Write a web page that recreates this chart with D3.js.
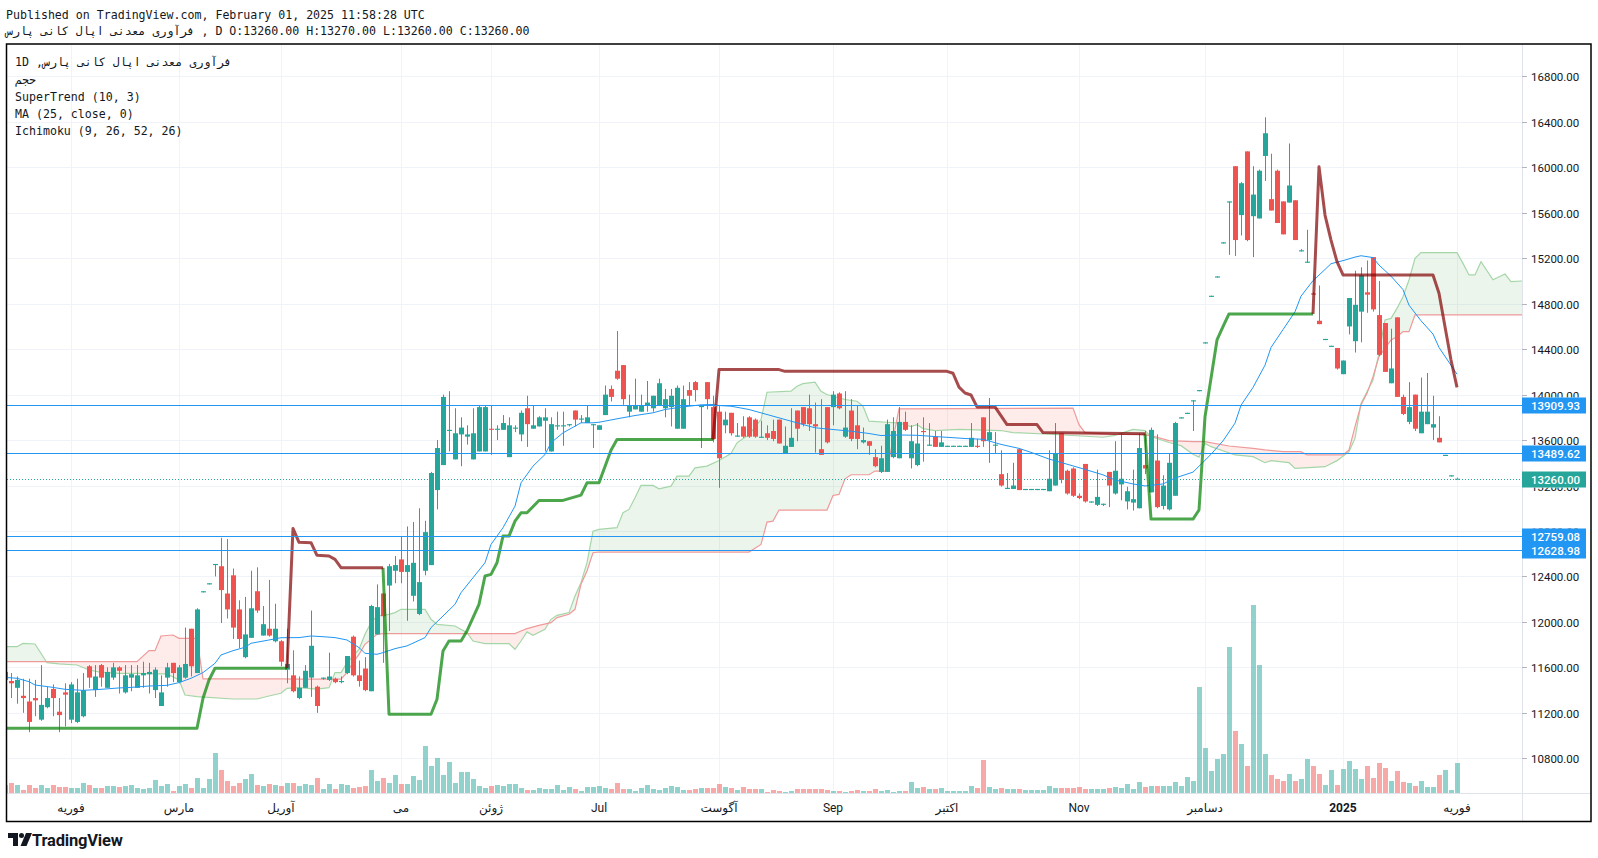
<!doctype html>
<html>
<head>
<meta charset="utf-8">
<script src="https://cdn.jsdelivr.net/npm/d3@7"></script>
<style>
html,body{ margin:0; background:#fff; overflow:hidden; }
text{ font-family: Roboto, "DejaVu Sans", sans-serif; }
.mono{ font-family: "DejaVu Sans Mono", "DejaVu Sans", monospace; font-size: 11.6px; fill:#131722; }
</style>
</head>
<body>
<svg id="chart" width="1598" height="858"></svg>
<script>
// daily candles, bar 0 = mid January 2024, bar 242 = 1 February 2025
var opens = [
11560,11480,11420,11350,11300,11330,11140,11250,11410,11210,
11380,11140,11120,11170,11610,11400,11620,11420,11510,11600,
11380,11510,11420,11530,11540,11400,11260,11510,11640,11470,
11510,11940,11550,12260,12330,12500,12490,12250,12410,12110,
11690,11860,12270,11880,11940,11830,11830,11580,11530,11330,
11420,11510,11430,11500,11490,11500,11470,11550,11870,11530,
11590,11390,11890,12250,12320,12450,12550,12440,12230,12070,
12450,12500,13160,13380,13680,13430,13650,13630,13430,13500,
13500,13700,13690,13690,13450,13700,13650,13880,13700,13720,
13770,13500,13720,13720,13730,13860,13780,13750,13730,13690,
13820,14050,14210,14260,13850,13870,13850,13900,13880,13900,
13880,13890,13700,13700,14040,14110,13890,14110,13890,13850,
13730,13840,13630,13720,13800,13780,13620,13660,13680,13780,
13480,13540,13860,13890,13880,13740,13520,13890,13890,14010,
13630,13860,13730,13580,13590,13450,13320,13320,13450,13440,
13760,13440,13380,13680,13550,13630,13540,13540,13540,13540,
13540,13540,13550,13800,13600,13550,13300,13170,13170,13520,
13160,13160,13160,13160,13150,13200,13660,13330,13350,13110,
13390,13050,13030,13030,13320,13130,13210,13060,13050,13000,
13380,13140,13420,13020,12990,13110,13790,13830,13940,14030,
14450,14860,15030,15330,15690,16010,15580,16140,15570,15550,
16100,15720,15970,15700,15690,15710,15260,15160,14890,14650,
14480,14420,14410,14180,14600,14470,14730,14900,15210,14700,
14630,14100,14680,13980,13760,14000,13660,13740,13710,13620,
13460,13280,13260];
var highs = [
11600,11550,11520,11500,11500,11490,11620,11430,11450,11330,
11460,11470,11500,11550,11620,11620,11630,11600,11640,11610,
11620,11620,11620,11650,11640,11600,11530,11640,11640,11620,
11950,11940,12120,12270,12340,12510,12740,12730,12470,12190,
12220,12450,12480,12140,12370,12160,11840,11940,11750,11520,
11620,12100,11440,11510,11730,11510,11520,11700,11880,11660,
11690,12150,12330,12250,12510,12580,12750,12840,12880,13000,
12890,13320,13600,14000,14030,13880,13800,13730,13880,13900,
13900,13900,13730,13820,13800,13730,13860,13990,13900,13810,
13880,13800,13850,13850,13740,13860,13820,13900,13740,13730,
14080,14080,14560,14260,14000,14140,14000,14120,13990,14140,
14050,14050,14080,14080,14110,14120,13900,14110,13990,13900,
13850,13840,13750,13810,13810,13790,13770,13730,13780,13780,
13720,13880,13860,13890,14000,13930,13960,13890,14030,14020,
14030,13960,13900,13710,13590,13520,13550,13780,13800,13890,
13850,13730,13750,13800,13750,13680,13680,13550,13550,13550,
13550,13750,13610,13800,13970,13670,13510,13310,13400,13520,
13170,13170,13170,13170,13510,13750,13660,13340,13360,13130,
13390,13060,13340,13040,13320,13590,13660,13190,13340,13660,
13680,13710,13650,13290,13480,13760,13800,13840,13950,14040,
14460,14870,15040,15340,15700,16010,15870,16140,16010,15980,
16440,16120,15980,15700,16210,15710,15280,15450,14900,14960,
14490,14430,14410,14300,14850,15090,15120,15180,15210,15000,
14630,14580,14680,14000,14110,14000,14150,14190,13990,13810,
13470,13290,13270];
var lows = [
11450,11330,11280,11200,11030,11170,11130,11240,11170,11030,
11080,11110,11110,11160,11420,11340,11430,11420,11490,11370,
11370,11390,11420,11420,11370,11330,11260,11430,11470,11460,
11500,11520,11550,12260,12330,12400,11990,12030,11850,11770,
11680,11860,12080,11880,11870,11820,11610,11460,11380,11320,
11420,11340,11200,11490,11480,11460,11460,11540,11520,11430,
11390,11390,11890,11640,11920,12340,12340,12010,12180,12060,
12410,12500,12990,13380,13500,13430,13370,13560,13430,13500,
13500,13470,13600,13690,13450,13670,13590,13540,13700,13720,
13500,13500,13690,13550,13720,13720,13750,13750,13530,13690,
13820,13940,14130,13910,13800,13870,13850,13850,13850,13900,
13800,13720,13700,13700,13900,13940,13530,13870,13580,13180,
13660,13640,13630,13620,13620,13620,13620,13600,13590,13570,
13480,13540,13590,13720,13680,13490,13470,13570,13730,13870,
13620,13590,13520,13570,13470,13360,13310,13320,13440,13440,
13680,13350,13370,13410,13550,13540,13540,13540,13540,13540,
13540,13540,13530,13540,13400,13480,13190,13170,13170,13160,
13160,13160,13160,13160,13150,13200,13220,13120,13100,13080,
13050,13050,13020,13020,13010,13120,13070,12990,12980,13000,
13300,13140,13000,12990,12980,13110,13790,13830,13680,14030,
14450,14860,15030,15330,15230,15220,15400,15350,15210,15550,
15880,15620,15510,15410,15690,15360,15260,15160,14880,14620,
14480,14420,14220,14180,14530,14370,14460,14720,14730,14340,
14200,14100,13980,13820,13740,13680,13660,13740,13600,13580,
13460,13280,13260];
var closes = [
11490,11460,11490,11330,11120,11310,11270,11330,11330,11180,
11360,11450,11380,11400,11510,11520,11510,11560,11600,11570,
11530,11540,11530,11550,11560,11580,11380,11600,11550,11600,
11630,11610,12110,12270,12340,12510,12280,12110,11950,11850,
11890,12120,12100,11980,11880,11940,11650,11630,11390,11420,
11570,11790,11260,11510,11520,11470,11480,11700,11530,11480,
11400,12140,12130,12050,12490,12500,12440,12500,12520,12350,
12790,13310,13530,13980,13690,13660,13710,13650,13660,13890,
13890,13690,13700,13750,13730,13710,13840,13740,13730,13800,
13800,13740,13730,13730,13740,13780,13790,13800,13740,13730,
14000,13980,14140,13960,13900,13900,13900,13930,13990,14100,
13960,13990,14060,13960,13990,14040,13900,13960,13610,13440,
13780,13660,13640,13630,13630,13630,13630,13620,13610,13570,
13550,13620,13700,13740,13740,13720,13470,13580,14000,13880,
13710,13610,13610,13600,13550,13370,13440,13740,13680,13760,
13690,13590,13570,13670,13560,13540,13580,13550,13550,13550,
13550,13620,13540,13590,13670,13560,13200,13180,13200,13160,
13170,13170,13170,13170,13260,13480,13250,13130,13110,13090,
13060,13060,13100,13040,13200,13330,13260,13150,13080,13530,
13350,13690,13010,13200,13400,13750,13800,13840,13950,14040,
14460,14870,15040,15340,15700,15360,15860,15360,15760,15970,
16300,15620,15510,15410,15840,15360,15270,15170,14880,14620,
14490,14430,14230,14300,14850,14790,15050,14880,14750,14350,
14200,14230,13980,13830,13890,13700,13850,13850,13740,13580,
13470,13290,13260];
// volume, millions of shares
var volumes = [
0.8,1.0,0.8,0.3,0.8,0.5,0.8,0.5,0.8,0.6,
0.6,0.5,0.5,1.0,0.8,0.5,0.5,0.7,0.7,0.6,
0.7,0.8,0.5,0.4,0.5,1.3,0.7,0.9,0.2,0.7,
0.9,0.5,1.5,0.5,1.4,4.0,2.3,1.2,0.7,1.0,
1.4,1.9,0.8,0.7,0.9,0.8,0.7,1.0,1.0,0.7,
0.9,0.8,1.5,0.4,0.9,0.4,0.9,0.8,0.5,0.6,
0.7,2.3,1.2,1.5,1.0,1.8,0.9,0.9,1.7,1.3,
4.7,2.7,3.5,1.8,3.1,1.0,2.1,2.1,1.4,0.7,
0.5,0.7,0.8,0.7,0.9,0.9,0.5,0.3,0.3,0.5,
0.4,0.4,0.8,0.3,0.6,0.4,0.2,0.6,0.6,0.7,
0.5,0.4,1.0,0.4,0.4,0.2,0.5,0.8,0.4,0.3,
0.5,0.7,0.6,0.3,0.3,0.4,0.5,0.5,0.5,0.9,
0.6,0.5,0.3,0.6,0.4,0.4,0.4,0.1,0.3,0.2,
0.1,0.2,0.4,0.4,0.4,0.4,0.4,0.3,0.2,0.2,
0.1,0.2,0.3,0.2,0.2,0.4,0.2,0.3,0.1,0.2,
0.2,1.1,0.5,0.6,0.4,0.4,0.5,0.2,0.2,0.2,
0.2,0.7,0.5,3.3,0.6,0.4,0.5,0.4,0.4,0.4,
0.3,0.3,0.3,0.3,0.7,0.5,0.5,0.5,0.5,0.6,
0.4,0.4,0.4,0.4,0.5,0.6,0.5,0.9,0.4,1.1,
0.6,0.7,0.7,0.7,0.7,1.1,0.7,1.6,1.2,10.6,
4.5,2.2,3.4,3.9,14.6,6.2,4.9,2.7,18.8,12.8,
3.9,1.8,1.4,1.2,1.9,1.2,1.4,3.4,2.7,1.9,
0.8,2.3,0.8,2.4,3.2,2.4,1.4,2.7,1.5,3.0,
2.5,1.2,2.2,1.1,1.0,0.7,1.2,0.6,0.6,1.8,
2.3,0.3,3.0];

// MA (25, close): [bar, value]
var maLine = [[0,11512],[2,11504],[4,11474],[5,11445],[8,11424],[10,11407],[13,11398],[16,11407],[19,11419],[21,11424],[24,11436],[27,11442],[29,11466],[31,11504],[33,11554],[35,11636],[36,11709],[38,11747],[40,11777],[41,11812],[44,11841],[46,11861],[49,11862],[51,11876],[53,11870],[55,11862],[57,11841],[59,11774],[60,11724],[62,11715],[63,11730],[65,11765],[67,11789],[70,11862],[71,11950],[73,12052],[75,12155],[76,12257],[78,12389],[80,12521],[81,12682],[83,12829],[85,13019],[86,13224],[88,13371],[90,13473],[91,13576],[93,13664],[95,13722],[96,13752],[98,13752],[99,13757],[102,13787],[105,13816],[108,13840],[110,13869],[113,13892],[116,13910],[118,13913],[119,13904],[121,13898],[124,13869],[127,13825],[130,13781],[133,13737],[135,13708],[138,13693],[141,13678],[144,13658],[146,13640],[149,13645],[152,13642],[155,13631],[158,13621],[160,13614],[163,13607],[166,13562],[169,13527],[171,13492],[174,13433],[177,13388],[180,13342],[183,13294],[185,13249],[188,13214],[190,13196],[193,13214],[195,13266],[198,13318],[199,13370],[201,13475],[203,13593],[205,13749],[206,13906],[208,14063],[210,14259],[211,14415],[213,14572],[215,14729],[216,14866],[218,15003],[220,15101],[221,15152],[223,15179],[225,15210],[226,15222],[228,15206],[229,15140],[231,15042],[233,14924],[234,14787],[236,14650],[238,14533],[239,14415],[241,14258],[242,14180]];

// SuperTrend (10, 3): up and down legs
var stUp = [
  [[0,11064],[32,11064],[33,11328],[34,11489],[35,11592],[47,11592]],
  [[63,12477],[64,11188],[71,11188],[72,11320],[73,11744],[74,11832],[76,11832],[77,11920],[78,12038],[79,12155],[80,12404],[81,12418],[82,12521],[83,12755],[84,12755],[85,12887],[86,12960],[87,12960],[89,13069],[93,13069],[96,13116],[97,13224],[99,13224],[101,13510],[102,13605],[118,13605]],
  [[190,13656],[191,12905],[198,12905],[199,12985],[200,13806],[202,14481],[203,14598],[204,14710],[218,14710]]
];
var stDown = [
  [[47,11592],[48,12823],[49,12700],[51,12697],[52,12586],[54,12580],[55,12550],[56,12477],[63,12477]],
  [[118,13605],[119,14220],[129,14220],[130,14205],[157,14205],[158,14188],[159,14066],[160,14014],[161,13997],[162,13892],[165,13892],[167,13736],[172,13736],[173,13666],[190,13656]],
  [[218,14710],[219,16005],[220,15580],[221,15360],[222,15170],[223,15053],[238,15053],[239,14892],[240,14598],[241,14305],[242,14064]]
];

// Ichimoku (9, 26, 52, 26) leading spans, shifted 26 bars ahead
var spanA = [[0,11782],[2,11782],[3,11811],[5,11806],[7,11641],[9,11630],[12,11621],[14,11577],[16,11556],[19,11548],[22,11548],[25,11542],[27,11542],[29,11489],[30,11357],[32,11342],[38,11322],[42,11322],[44,11348],[46,11372],[47,11416],[49,11422],[52,11408],[54,11422],[55,11554],[56,11554],[57,11642],[59,11759],[60,11891],[61,11994],[62,12052],[64,12067],[65,12082],[66,12111],[70,12111],[71,12023],[72,11979],[75,11964],[77,11906],[78,11832],[80,11809],[84,11809],[85,11759],[86,11832],[87,11912],[88,11882],[90,11935],[91,12023],[92,12058],[94,12082],[95,12228],[96,12345],[97,12521],[98,12799],[99,12814],[102,12829],[103,12961],[104,12990],[105,13092],[106,13201],[108,13201],[109,13171],[111,13195],[112,13283],[114,13283],[115,13356],[117,13371],[119,13420],[121,13482],[122,13576],[124,13649],[126,13781],[127,14021],[131,14030],[132,14074],[133,14097],[135,14109],[136,14030],[137,14001],[138,13986],[140,13957],[142,13942],[143,13898],[144,13766],[147,13757],[149,13750],[151,13718],[152,13736],[153,13701],[155,13684],[159,13694],[166,13684],[168,13666],[175,13649],[183,13625],[185,13642],[188,13694],[190,13684],[191,13631],[194,13579],[196,13551],[198,13475],[199,13450],[200,13571],[201,13542],[205,13469],[208,13454],[210,13401],[211,13419],[214,13401],[215,13351],[218,13360],[220,13366],[222,13419],[224,13498],[225,13615],[226,13923],[228,14129],[229,14363],[230,14657],[231,14671],[232,14759],[233,14862],[234,15009],[235,15199],[236,15249],[242,15249],[243,15155],[244,15053],[245,15053],[246,15170],[248,15011],[250,15061],[251,14995],[254,15003]];
var spanB = [[0,11650],[22,11650],[24,11747],[25,11747],[26,11876],[28,11885],[29,11856],[32,11856],[33,11498],[46,11498],[49,11496],[56,11496],[57,11554],[58,11642],[59,11715],[60,11803],[62,11891],[63,11897],[85,11897],[86,11920],[87,11941],[89,11970],[91,11994],[92,12038],[94,12067],[95,12111],[96,12331],[97,12448],[98,12609],[99,12615],[124,12615],[126,12682],[127,12878],[128,12887],[129,12984],[137,12984],[138,13113],[139,13122],[140,13259],[141,13295],[144,13295],[145,13327],[147,13327],[148,13605],[149,13875],[178,13882],[179,13736],[180,13666],[185,13649],[189,13649],[191,13640],[194,13595],[198,13586],[200,13586],[204,13548],[208,13527],[210,13513],[213,13498],[216,13498],[217,13469],[223,13469],[224,13513],[225,13718],[226,13909],[227,14011],[228,14158],[229,14334],[231,14481],[232,14510],[233,14554],[234,14554],[235,14701],[254,14701]];

var levels = [13909.93, 13489.62, 12759.08, 12628.98];
var lastPrice = 13260;
var priceTicks = d3.range(10800, 16801, 400);
var monthBars = [11, 29, 46, 66, 81, 99, 119, 138, 157, 179, 200, 223, 242];
var monthLabels = ["فوریه","مارس","آوریل","می","ژوئن","Jul","آگوست","Sep","اکتبر","Nov","دسامبر","2025","فوریه"];

var symbol = "فرآوری معدنی اپال کانی پارس";

(function(){
    var W = 1598, H = 858,
        left = 7, right = 1522, top = 45, bottom = 793,
        up = "#26a69a", down = "#ef5350";

    var x = d3.scaleLinear().domain([0, 242]).range([5, 1457]);
    var y = d3.scaleLinear().domain([10800, 16800]).range([758.3, 76.4]);
    var yVol = d3.scaleLinear().domain([0, 18.8]).range([bottom, 605]);

    var svg = d3.select("#chart");
    svg.append("rect").attr("width", W).attr("height", H).attr("fill", "#fff");

    var defs = svg.append("defs");
    defs.append("clipPath").attr("id", "plotClip")
        .append("rect").attr("x", left).attr("y", top).attr("width", right - left).attr("height", bottom - top);

    var line = d3.line().x(function(d){return x(d[0])}).y(function(d){return y(d[1])});
    var above = d3.area().x(function(d){return x(d[0])}).y0(0).y1(function(d){return y(d[1])});
    var below = d3.area().x(function(d){return x(d[0])}).y0(H).y1(function(d){return y(d[1])});
    defs.append("clipPath").attr("id", "aboveB").append("path").attr("d", above(spanB));
    defs.append("clipPath").attr("id", "aboveA").append("path").attr("d", above(spanA));

    // tags sit on top of the axis labels, cut the labels where a tag is
    var tagPrices = levels.concat([lastPrice]);
    var axisCut = "M" + right + ",0h80v" + H + "h-80z";
    tagPrices.forEach(function(p){
        var yy = Math.round(y(p)) + 0.5;
        axisCut += "M" + right + "," + (yy - 8) + "v16h64v-16z";
    });
    defs.append("clipPath").attr("id", "axisClip")
        .append("path").attr("d", axisCut).attr("clip-rule", "evenodd");

    var g = svg.append("g").attr("clip-path", "url(#plotClip)");

    // grid
    g.selectAll("line.hg").data(priceTicks).enter().append("line")
        .attr("x1", left).attr("x2", right)
        .attr("y1", function(d){return Math.round(y(d)) + 0.5})
        .attr("y2", function(d){return Math.round(y(d)) + 0.5})
        .attr("stroke", "#f0f3fa");
    g.selectAll("line.vg").data(monthBars).enter().append("line")
        .attr("x1", function(d){return x(d) + 0.5}).attr("x2", function(d){return x(d) + 0.5})
        .attr("y1", top).attr("y2", bottom)
        .attr("stroke", "#f0f3fa");

    // volume
    var bars = d3.range(opens.length);
    g.selectAll("rect.vol").data(bars).enter().append("rect")
        .attr("x", function(i){return x(i) - 2})
        .attr("width", 5)
        .attr("y", function(i){return yVol(volumes[i])})
        .attr("height", function(i){return bottom - yVol(volumes[i])})
        .attr("fill", function(i){return closes[i] >= opens[i] ? "rgba(38,166,154,0.5)" : "rgba(239,83,80,0.5)"});

    // ichimoku cloud
    g.append("path").attr("d", below(spanA)).attr("clip-path", "url(#aboveB)").attr("fill", "rgba(67,160,71,0.1)");
    g.append("path").attr("d", below(spanB)).attr("clip-path", "url(#aboveA)").attr("fill", "rgba(244,67,54,0.1)");
    g.append("path").attr("d", line(spanA)).attr("fill", "none").attr("stroke", "#a5d6a7").attr("stroke-width", 1.2);
    g.append("path").attr("d", line(spanB)).attr("fill", "none").attr("stroke", "#ef9a9a").attr("stroke-width", 1.2);

    // candles
    var candle = g.selectAll("g.c").data(bars).enter().append("g");
    candle.append("line")
        .attr("x1", function(i){return x(i) + 0.5}).attr("x2", function(i){return x(i) + 0.5})
        .attr("y1", function(i){return y(highs[i])}).attr("y2", function(i){return y(lows[i])})
        .attr("stroke", function(i){return closes[i] >= opens[i] ? up : down});
    candle.append("rect")
        .attr("x", function(i){return x(i) - 2}).attr("width", 5)
        .attr("y", function(i){return y(Math.max(opens[i], closes[i]))})
        .attr("height", function(i){return Math.max(1, Math.abs(y(opens[i]) - y(closes[i])))})
        .attr("fill", function(i){return closes[i] >= opens[i] ? up : down});

    // MA
    g.append("path").attr("d", line(maLine)).attr("fill", "none").attr("stroke", "#2196f3").attr("stroke-width", 1);

    // supertrend
    stUp.forEach(function(s){
        g.append("path").attr("d", line(s)).attr("fill", "none")
            .attr("stroke", "rgba(0,128,0,0.7)").attr("stroke-width", 3).attr("stroke-linejoin", "round");
    });
    stDown.forEach(function(s){
        g.append("path").attr("d", line(s)).attr("fill", "none")
            .attr("stroke", "rgba(128,0,0,0.7)").attr("stroke-width", 3).attr("stroke-linejoin", "round");
    });

    // horizontal levels
    levels.forEach(function(p){
        var yy = Math.round(y(p)) + 0.5;
        g.append("line").attr("x1", left).attr("x2", right).attr("y1", yy).attr("y2", yy)
            .attr("stroke", "#2196f3").attr("stroke-width", 1);
    });
    var yl = Math.round(y(lastPrice)) + 0.5;
    g.append("line").attr("x1", left).attr("x2", right).attr("y1", yl).attr("y2", yl)
        .attr("stroke", up).attr("stroke-dasharray", "1,2");

    // separators
    svg.append("line").attr("x1", 6).attr("x2", 1591).attr("y1", bottom + 0.5).attr("y2", bottom + 0.5).attr("stroke", "#e0e3eb");
    svg.append("line").attr("x1", right + 0.5).attr("x2", right + 0.5).attr("y1", 44).attr("y2", 822).attr("stroke", "#e0e3eb");

    // price axis
    var pa = svg.append("g");
    var paLabels = pa.append("g").attr("clip-path", "url(#axisClip)");
    priceTicks.forEach(function(p){
        var yy = Math.round(y(p)) + 0.5;
        paLabels.append("line").attr("x1", right).attr("x2", right + 5).attr("y1", yy).attr("y2", yy).attr("stroke", "#b2b5be");
        paLabels.append("text").attr("x", 1531).attr("y", yy).attr("dominant-baseline", "central")
            .attr("font-size", 11.5).attr("fill", "#131722").text(d3.format(".2f")(p));
    });
    function tag(p, color){
        var yy = Math.round(y(p)) + 0.5;
        pa.append("rect").attr("x", right).attr("y", yy - 8).attr("width", 64).attr("height", 16).attr("fill", color);
        pa.append("text").attr("x", 1531).attr("y", yy).attr("dominant-baseline", "central")
            .attr("font-size", 11.5).attr("font-weight", 500).attr("fill", "#fff").text(d3.format(".2f")(p));
    }
    levels.forEach(function(p){ tag(p, "#2196f3"); });
    tag(lastPrice, up);

    // time axis
    svg.selectAll("text.t").data(monthBars).enter().append("text")
        .attr("x", function(d){return x(d)}).attr("y", 808)
        .attr("text-anchor", "middle").attr("dominant-baseline", "central")
        .attr("font-size", 12).attr("fill", "#131722")
        .attr("font-weight", function(d, k){return monthLabels[k] === "2025" ? 700 : 400})
        .text(function(d, k){return monthLabels[k]});

    // frame
    svg.append("rect").attr("x", 6.5).attr("y", 44).attr("width", 1584.5).attr("height", 777.5)
        .attr("fill", "none").attr("stroke", "#000").attr("stroke-width", 1.5);

    // header and legend
    svg.append("text").attr("class", "mono").attr("x", 6).attr("y", 15).attr("dominant-baseline", "central")
        .text("Published on TradingView.com, February 01, 2025 11:58:28 UTC");
    svg.append("text").attr("class", "mono").attr("x", 6).attr("y", 31).attr("dominant-baseline", "central")
        .text(symbol + " , D O:13260.00 H:13270.00 L:13260.00 C:13260.00");
    var legend = ["1D ," + symbol, "حجم", "SuperTrend (10, 3)", "MA (25, close, 0)", "Ichimoku (9, 26, 52, 26)"];
    var legendY = [62, 79.5, 97, 113.5, 130.5];
    legend.forEach(function(t, k){
        svg.append("text").attr("class", "mono").attr("x", 15).attr("y", legendY[k])
            .attr("dominant-baseline", "central").text(t);
    });

    // footer logo
    var logo = svg.append("g").attr("transform", "translate(8,833)").attr("fill", "#131722");
    logo.append("path").attr("d", "M0 0h10v13h-5v-8h-5z");
    logo.append("circle").attr("cx", 13.5).attr("cy", 2.5).attr("r", 2.5);
    logo.append("path").attr("d", "M18 0h6l-5.5 13h-6z");
    svg.append("text").attr("x", 32).attr("y", 840).attr("dominant-baseline", "central")
        .attr("font-size", 16.5).attr("font-weight", 700).attr("fill", "#131722").attr("letter-spacing", -0.2)
        .text("TradingView");
})();
</script>
</body>
</html>
